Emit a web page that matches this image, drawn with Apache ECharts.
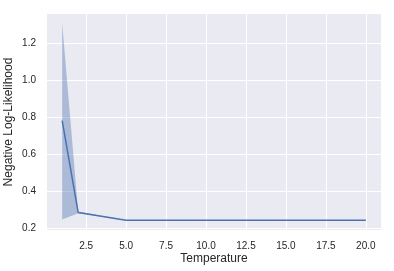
<!DOCTYPE html>
<html>
<head>
<meta charset="utf-8">
<script src="https://cdn.jsdelivr.net/npm/echarts@6/dist/echarts.min.js"></script>
<style>
  html, body { margin: 0; padding: 0; background: #fff; }
  #chart { width: 394px; height: 271px; }
</style>
</head>
<body>
<div id="chart"></div>
<script>
// temperature values and mean NLL
var temperatures = [1, 2, 5, 20];
var meanNll = [0.783, 0.288, 0.245, 0.245];
// confidence band
var bandLow = [0.25, 0.283, 0.245, 0.245];
var bandHigh = [1.308, 0.293, 0.245, 0.245];
// tick labels
var xTicks = [2.5, 5, 7.5, 10, 12.5, 15, 17.5, 20];
var yTicks = [0.2, 0.4, 0.6, 0.8, 1.0, 1.2];

var fontFam = 'Arial, "Liberation Sans", sans-serif';
var lineColor = '#4c72b0';

var chart = echarts.init(document.getElementById('chart'));

// band polygon: upper edge left->right, lower edge right->left
function renderBand(params, api) {
  if (params.dataIndex !== 0) return;
  var pts = [];
  for (var i = 0; i < temperatures.length; i++) {
    pts.push(api.coord([temperatures[i], bandHigh[i]]));
  }
  for (var j = temperatures.length - 1; j >= 0; j--) {
    pts.push(api.coord([temperatures[j], bandLow[j]]));
  }
  return {
    type: 'polygon',
    shape: { points: pts },
    style: { fill: lineColor, opacity: 0.4 }
  };
}

var option = {
  animation: false,
  grid: {
    left: 47, right: 13, top: 14, bottom: 41,
    outerBoundsMode: 'none',
    containLabel: false,
    show: true, backgroundColor: '#eaeaf2', borderWidth: 0
  },
  xAxis: {
    type: 'value',
    min: 0.05, max: 20.95,
    name: 'Temperature',
    nameLocation: 'middle',
    nameGap: 23,
    nameMoveOverlap: false,
    nameTextStyle: { color: '#262626', fontSize: 12, fontFamily: fontFam },
    axisLine: { show: false },
    axisTick: { show: false, customValues: xTicks },
    axisLabel: {
      customValues: xTicks,
      color: '#262626', fontSize: 10, fontFamily: fontFam, margin: 11,
      formatter: function (v) { return v.toFixed(1); }
    },
    splitLine: { show: true, lineStyle: { color: '#ffffff', width: 1 } }
  },
  yAxis: {
    type: 'value',
    min: 0.193, max: 1.358,
    name: 'Negative Log-Likelihood',
    nameLocation: 'middle',
    nameGap: 32,
    nameMoveOverlap: false,
    nameTextStyle: { color: '#262626', fontSize: 12, fontFamily: fontFam },
    axisLine: { show: false },
    axisTick: { show: false, customValues: yTicks },
    axisLabel: {
      customValues: yTicks,
      color: '#262626', fontSize: 10, fontFamily: fontFam, margin: 11,
      formatter: function (v) { return v.toFixed(1); }
    },
    splitLine: { show: true, lineStyle: { color: '#ffffff', width: 1 } }
  },
  series: [
    {
      type: 'custom',
      renderItem: renderBand,
      data: temperatures.map(function (t, i) { return [t, bandLow[i], bandHigh[i]]; }),
      encode: { x: 0, y: [1, 2] },
      silent: true,
      z: 1
    },
    {
      type: 'line',
      symbol: 'none',
      lineStyle: { color: lineColor, width: 1.5 },
      data: temperatures.map(function (t, i) { return [t, meanNll[i]]; }),
      z: 3
    }
  ]
};

chart.setOption(option);
</script>
</body>
</html>
